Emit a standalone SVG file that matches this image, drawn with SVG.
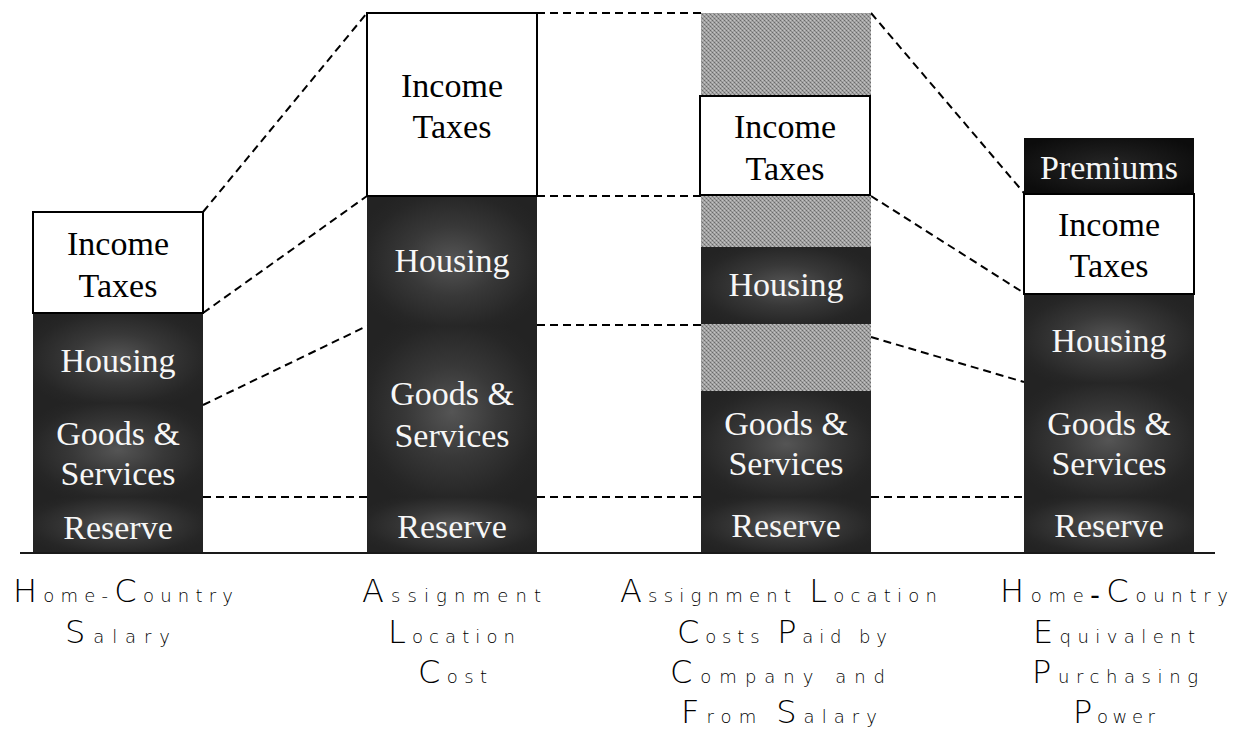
<svg xmlns="http://www.w3.org/2000/svg" width="1235" height="730" viewBox="0 0 1235 730">
  <defs>
    <radialGradient id="glow" cx="0.5" cy="0.5" r="0.6">
      <stop offset="0" stop-color="#555"/>
      <stop offset="0.45" stop-color="#383838"/>
      <stop offset="0.85" stop-color="#262626"/>
      <stop offset="1" stop-color="#232323"/>
    </radialGradient>
    <radialGradient id="glowDark" cx="0.5" cy="0.5" r="0.6">
      <stop offset="0" stop-color="#262626"/>
      <stop offset="1" stop-color="#0c0c0c"/>
    </radialGradient>
    <pattern id="hatch" width="4" height="4" patternUnits="userSpaceOnUse">
      <rect width="4" height="4" fill="#a4a4a4"/>
      <rect x="0" y="0" width="1" height="1" fill="#6a6a6a"/>
      <rect x="2" y="2" width="1" height="1" fill="#6a6a6a"/>
      <rect x="2" y="0" width="1" height="1" fill="#c2c2c2"/>
      <rect x="0" y="2" width="1" height="1" fill="#c2c2c2"/>
      <rect x="1" y="1" width="1" height="1" fill="#8a8a8a"/>
      <rect x="3" y="3" width="1" height="1" fill="#8a8a8a"/>
    </pattern>
    <style>
      .dark { fill: url(#glow); }
      .prem { fill: url(#glowDark); }
      .tax { fill: #fff; stroke: #000; stroke-width: 2; }
      .hatch { fill: url(#hatch); }
      .lbl { font-family: "Liberation Serif", "Times New Roman", serif; font-size: 34px; text-anchor: middle; }
      .w { fill: #f7f7f7; }
      .b { fill: #000; }
      .dash { fill: none; stroke: #000; stroke-width: 2; stroke-dasharray: 8 5; }
      .cap { font-family: "DejaVu Sans", "Liberation Sans", sans-serif; font-weight: 200; fill: #000; font-size: 18px; }
      .cap .C { font-size: 32px; }
    </style>
  </defs>

  <rect width="1235" height="730" fill="#fff"/>

  <!-- dashed guide lines between the columns -->
  <g id="connectors">
    <line class="dash" x1="203" y1="212" x2="367" y2="13"/>
    <line class="dash" x1="203" y1="313" x2="367" y2="196"/>
    <line class="dash" x1="203" y1="405" x2="367" y2="326"/>
    <line class="dash" x1="203" y1="497" x2="367" y2="497"/>

    <line class="dash" x1="537" y1="13" x2="701" y2="13"/>
    <line class="dash" x1="537" y1="196" x2="701" y2="196"/>
    <line class="dash" x1="537" y1="325" x2="701" y2="325"/>
    <line class="dash" x1="537" y1="497" x2="701" y2="497"/>

    <line class="dash" x1="871" y1="13" x2="1024" y2="193"/>
    <line class="dash" x1="871" y1="196" x2="1024" y2="293"/>
    <line class="dash" x1="871" y1="337" x2="1024" y2="382"/>
    <line class="dash" x1="871" y1="497" x2="1024" y2="497"/>
  </g>

  <!-- column 1: home-country salary -->
  <g id="col-home-salary">
    <rect class="dark" x="33" y="497" width="170" height="56"/>
    <rect class="dark" x="33" y="403" width="170" height="94"/>
    <rect class="dark" x="33" y="313" width="170" height="90"/>
    <rect class="tax" x="33" y="212" width="170" height="101"/>
    <text class="lbl b" x="118" y="255">Income</text>
    <text class="lbl b" x="118" y="297">Taxes</text>
    <text class="lbl w" x="118" y="372">Housing</text>
    <text class="lbl w" x="118" y="445">Goods &amp;</text>
    <text class="lbl w" x="118" y="485">Services</text>
    <text class="lbl w" x="118" y="539">Reserve</text>
  </g>

  <!-- column 2: assignment location cost -->
  <g id="col-assignment-cost">
    <rect class="dark" x="367" y="497" width="170" height="56"/>
    <rect class="dark" x="367" y="326" width="170" height="171"/>
    <rect class="dark" x="367" y="196" width="170" height="130"/>
    <rect class="tax" x="367" y="13" width="170" height="183"/>
    <text class="lbl b" x="452" y="97">Income</text>
    <text class="lbl b" x="452" y="138">Taxes</text>
    <text class="lbl w" x="452" y="272">Housing</text>
    <text class="lbl w" x="452" y="405">Goods &amp;</text>
    <text class="lbl w" x="452" y="447">Services</text>
    <text class="lbl w" x="452" y="538">Reserve</text>
  </g>

  <!-- column 3: costs paid by company and from salary -->
  <g id="col-costs-paid">
    <rect class="hatch" x="701" y="13" width="170" height="83"/>
    <rect class="hatch" x="701" y="195" width="170" height="52"/>
    <rect class="hatch" x="701" y="324" width="170" height="67"/>
    <rect class="dark" x="701" y="497" width="170" height="56"/>
    <rect class="dark" x="701" y="391" width="170" height="106"/>
    <rect class="dark" x="701" y="247" width="170" height="77"/>
    <rect class="tax" x="700" y="96" width="170" height="99"/>
    <text class="lbl b" x="785" y="138">Income</text>
    <text class="lbl b" x="785" y="180">Taxes</text>
    <text class="lbl w" x="786" y="296">Housing</text>
    <text class="lbl w" x="786" y="435">Goods &amp;</text>
    <text class="lbl w" x="786" y="475">Services</text>
    <text class="lbl w" x="786" y="537">Reserve</text>
  </g>

  <!-- column 4: home-country equivalent purchasing power -->
  <g id="col-purchasing-power">
    <rect class="dark" x="1024" y="497" width="170" height="56"/>
    <rect class="dark" x="1024" y="383" width="170" height="114"/>
    <rect class="dark" x="1024" y="294" width="170" height="89"/>
    <rect class="prem" x="1024" y="138" width="170" height="55"/>
    <rect class="tax" x="1024" y="194" width="170" height="100"/>
    <text class="lbl w" x="1109" y="179">Premiums</text>
    <text class="lbl b" x="1109" y="236">Income</text>
    <text class="lbl b" x="1109" y="277">Taxes</text>
    <text class="lbl w" x="1109" y="352">Housing</text>
    <text class="lbl w" x="1109" y="435">Goods &amp;</text>
    <text class="lbl w" x="1109" y="475">Services</text>
    <text class="lbl w" x="1109" y="537">Reserve</text>
  </g>

  <!-- ground line -->
  <line x1="20" y1="553" x2="1215" y2="553" stroke="#1a1a1a" stroke-width="2"/>

  <!-- column captions -->
  <g id="captions">
    <text class="cap" x="13" y="602" textLength="220" lengthAdjust="spacing"><tspan class="C">H</tspan>ome-<tspan class="C">C</tspan>ountry</text>
    <text class="cap" x="65" y="643" textLength="105" lengthAdjust="spacing"><tspan class="C">S</tspan>alary</text>

    <text class="cap" x="362" y="602" textLength="179" lengthAdjust="spacing"><tspan class="C">A</tspan>ssignment</text>
    <text class="cap" x="388" y="643" textLength="127" lengthAdjust="spacing"><tspan class="C">L</tspan>ocation</text>
    <text class="cap" x="418" y="683" textLength="69" lengthAdjust="spacing"><tspan class="C">C</tspan>ost</text>

    <text class="cap" x="620" y="602" textLength="317" lengthAdjust="spacing"><tspan class="C">A</tspan>ssignment <tspan class="C">L</tspan>ocation</text>
    <text class="cap" x="677" y="643" textLength="210" lengthAdjust="spacing"><tspan class="C">C</tspan>osts <tspan class="C">P</tspan>aid by</text>
    <text class="cap" x="670" y="683" textLength="215" lengthAdjust="spacing"><tspan class="C">C</tspan>ompany and</text>
    <text class="cap" x="681" y="723" textLength="196" lengthAdjust="spacing"><tspan class="C">F</tspan>rom <tspan class="C">S</tspan>alary</text>

    <text class="cap" x="1000" y="602" textLength="228" lengthAdjust="spacing"><tspan class="C">H</tspan>ome<tspan font-weight="700">–</tspan><tspan class="C">C</tspan>ountry</text>
    <text class="cap" x="1033" y="643" textLength="162" lengthAdjust="spacing"><tspan class="C">E</tspan>quivalent</text>
    <text class="cap" x="1032" y="683" textLength="166" lengthAdjust="spacing"><tspan class="C">P</tspan>urchasing</text>
    <text class="cap" x="1073" y="723" textLength="82" lengthAdjust="spacing"><tspan class="C">P</tspan>ower</text>
  </g>
</svg>
